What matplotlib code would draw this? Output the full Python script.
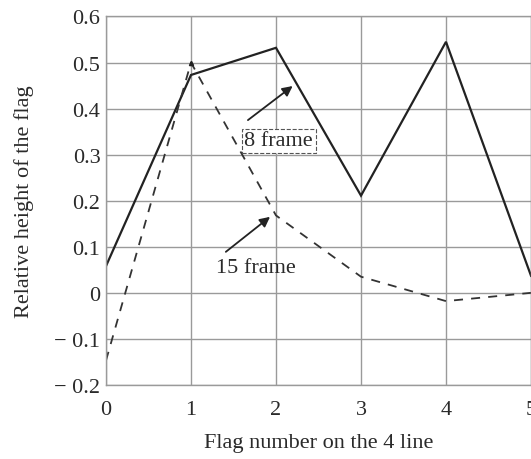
import matplotlib
matplotlib.use("Agg")
import matplotlib.pyplot as plt

# data
flag_no = [0, 1, 2, 3, 4, 5]
frame8 = [0.058, 0.473, 0.532, 0.211, 0.545, 0.037]
frame15 = [-0.147, 0.50, 0.168, 0.035, -0.018, 0.0]
y_ticks = [-0.2, -0.1, 0, 0.1, 0.2, 0.3, 0.4, 0.5, 0.6]
y_tick_labels = ["\u2212 0.2", "\u2212 0.1", "0", "0.1", "0.2", "0.3", "0.4", "0.5", "0.6"]

plt.rcParams['font.family'] = ['Liberation Serif', 'DejaVu Serif']

fig = plt.figure(figsize=(5.31, 4.6), dpi=100)
ax = fig.add_axes([0.1996, 0.161, 0.8004, 0.801])

grid_c = '#9a9a9a'
ax.plot(flag_no, frame8, color='#222222', lw=1.6, solid_joinstyle='miter')
ax.plot(flag_no, frame15, color='#333333', lw=1.3, ls=(0, (5, 4.5)))
ax.plot([1], [0.5], marker='^', ms=3, color='#222222')

ax.set_xlim(0, 5)
ax.set_ylim(-0.2, 0.6)
ax.set_xticks(flag_no)
ax.set_yticks(y_ticks)
ax.set_yticklabels(y_tick_labels)
ax.grid(True, color=grid_c, lw=1.0)
ax.set_axisbelow(True)
for s in ax.spines.values():
    s.set_color(grid_c)
    s.set_linewidth(1.0)
ax.tick_params(length=0, labelsize=16, colors='#2a2a2a')
ax.tick_params(axis='y', pad=4)
ax.tick_params(axis='x', pad=11)

ax.set_xlabel("Flag number on the 4 line", fontsize=16, color='#2a2a2a', labelpad=10)
ax.set_ylabel("Relative height of the flag", fontsize=16, color='#2a2a2a', labelpad=15)

arrow = dict(arrowstyle='-|>', color='#222222', lw=1.3, mutation_scale=15,
             shrinkA=0, shrinkB=0)
ax.annotate("", xy=(2.196, 0.449), xytext=(1.67, 0.375), arrowprops=arrow)
ax.annotate("", xy=(1.93, 0.165), xytext=(1.41, 0.089), arrowprops=arrow)

ax.text(2.03, 0.33, "8 frame", fontsize=16, ha='center', va='center', color='#2a2a2a',
        bbox=dict(boxstyle='square,pad=0.12', fc='white', ec='#555555', ls='--', lw=0.8))
ax.text(1.765, 0.056, "15 frame", fontsize=16, ha='center', va='center', color='#2a2a2a')

fig.savefig("out.png", dpi=100)
